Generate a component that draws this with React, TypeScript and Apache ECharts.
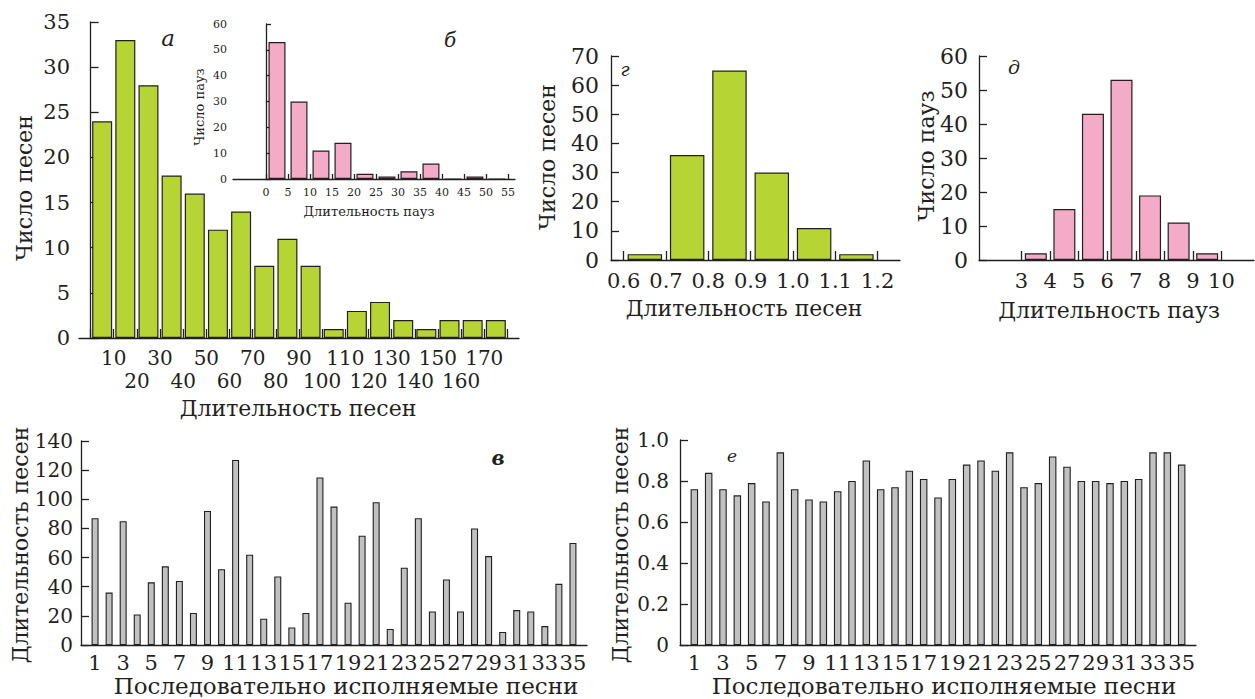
import React, { useEffect, useRef } from "react";
import * as echarts from "echarts";

const SERIF = "DejaVu Serif";
const INK = "#231f20";
const GREEN = "#b7d435";
const PINK = "#f4abc8";
const GRAY = "#c1c1c1";

// а — song durations histogram
const songBinStarts = [0, 10, 20, 30, 40, 50, 60, 70, 80, 90, 100, 110, 120, 130, 140, 150, 160, 170];
const songBinWidth = 10;
const songCounts = [24, 33, 28, 18, 16, 12, 14, 8, 11, 8, 1, 3, 4, 2, 1, 2, 2, 2];
const songTicks = [0, 10, 20, 30, 40, 50, 60, 70, 80, 90, 100, 110, 120, 130, 140, 150, 160, 170, 180];
const songLabelsUpper = [10, 30, 50, 70, 90, 110, 130, 150, 170];
const songLabelsLower = [20, 40, 60, 80, 100, 120, 140, 160];

// б — pause durations histogram (inset)
const pauseBinStarts = [0, 5, 10, 15, 20, 25, 30, 35, 40, 45, 50];
const pauseBinWidth = 5;
const pauseCounts = [53, 30, 11, 14, 2, 1, 3, 6, 0, 1, 0];
const pauseTicks = [0, 5, 10, 15, 20, 25, 30, 35, 40, 45, 50, 55];

// г — relative song durations
const relSongBinStarts = [0.6, 0.7, 0.8, 0.9, 1.0, 1.1];
const relSongBinWidth = 0.1;
const relSongCounts = [2, 36, 65, 30, 11, 2];
const relSongTicks = [0.6, 0.7, 0.8, 0.9, 1.0, 1.1, 1.2];

// д — relative pause durations
const relPauseBinStarts = [3, 4, 5, 6, 7, 8, 9];
const relPauseBinWidth = 1;
const relPauseCounts = [2, 15, 43, 53, 19, 11, 2];
const relPauseTicks = [3, 4, 5, 6, 7, 8, 9, 10];

// в, е — sequentially performed songs
const songNumbers = [1, 2, 3, 4, 5, 6, 7, 8, 9, 10, 11, 12, 13, 14, 15, 16, 17, 18, 19, 20, 21, 22, 23, 24, 25, 26, 27, 28, 29, 30, 31, 32, 33, 34, 35];
const songLengths = [87, 36, 85, 21, 43, 54, 44, 22, 92, 52, 127, 62, 18, 47, 12, 22, 115, 95, 29, 75, 98, 11, 53, 87, 23, 45, 23, 80, 61, 9, 24, 23, 13, 42, 70];
const songLengthsRel = [0.76, 0.84, 0.76, 0.73, 0.79, 0.7, 0.94, 0.76, 0.71, 0.7, 0.75, 0.8, 0.9, 0.76, 0.77, 0.85, 0.81, 0.72, 0.81, 0.88, 0.9, 0.85, 0.94, 0.77, 0.79, 0.92, 0.87, 0.8, 0.8, 0.79, 0.8, 0.81, 0.94, 0.94, 0.88];
const songNumberLabels = [1, 3, 5, 7, 9, 11, 13, 15, 17, 19, 21, 23, 25, 27, 29, 31, 33, 35];

const lineStyle = { color: INK, width: 1.3 };

function xAxis(grid: number, min: number, max: number, o: any) {
  return {
    type: "value",
    gridIndex: grid,
    position: "bottom",
    offset: 0,
    min,
    max,
    axisLine: { show: !o.noLine, onZero: false, lineStyle },
    axisTick: o.ticks
      ? { show: true, inside: true, length: o.tickLen, customValues: o.ticks, lineStyle }
      : { show: false },
    axisLabel: {
      customValues: o.labels,
      formatter: o.formatter,
      fontFamily: SERIF,
      fontSize: o.fontSize,
      lineHeight: o.lineHeight || o.fontSize,
      color: INK,
      margin: o.margin,
      showMinLabel: true,
      showMaxLabel: true,
      hideOverlap: false,
    },
    splitLine: { show: false },
  };
}

function yAxis(grid: number, max: number, interval: number, o: any) {
  return {
    type: "value",
    gridIndex: grid,
    min: 0,
    max,
    interval,
    axisLine: { show: true, lineStyle },
    axisTick: { show: true, inside: true, length: o.tickLen, lineStyle },
    axisLabel: {
      formatter: o.formatter,
      fontFamily: SERIF,
      fontSize: o.fontSize,
      color: INK,
      margin: o.margin,
      showMinLabel: true,
      showMaxLabel: true,
    },
    splitLine: { show: false },
  };
}

function histSeries(idx: number, starts: number[], width: number, counts: number[], color: string, barWidth: number) {
  return {
    type: "bar",
    xAxisIndex: idx,
    yAxisIndex: idx,
    barWidth,
    data: starts.map((s, i) => [s + width / 2, counts[i]]),
    itemStyle: { color, borderColor: INK, borderWidth: 1.2 },
  };
}

function text(t: string, x: number, y: number, size: number, extra: any = {}) {
  return {
    type: "text",
    x,
    y,
    rotation: extra.rotate ? Math.PI / 2 : 0,
    style: {
      text: t,
      fill: INK,
      fontFamily: SERIF,
      fontSize: size,
      fontStyle: extra.italic ? "italic" : "normal",
      fontWeight: extra.bold ? "bold" : "normal",
      lineHeight: extra.lineHeight || size,
      align: "center",
      verticalAlign: "middle",
      textAlign: "center",
      textVerticalAlign: "middle",
    },
  };
}

export default function App() {
  const ref = useRef<HTMLDivElement>(null);
  useEffect(() => {
    if (!ref.current) return;
    const chart = echarts.init(ref.current, undefined, { renderer: "svg" });
    const decFmt = (v: number) => (v === 0 ? "0" : v.toFixed(1));
    chart.setOption({
      animation: false,
      backgroundColor: "#ffffff",
      textStyle: { fontFamily: SERIF },
      grid: [
        { left: 79, top: 22, width: 440, height: 316 },
        { left: 233, top: 24, width: 282, height: 155 },
        { left: 611, top: 56, width: 289, height: 204 },
        { left: 979, top: 56, width: 275, height: 204 },
        { left: 81, top: 441, width: 506, height: 204 },
        { left: 680, top: 440, width: 516, height: 205 },
      ],
      xAxis: [
        xAxis(0, -5, 185, { ticks: songTicks, tickLen: 9, labels: songLabelsUpper, fontSize: 20, margin: 10 }),
        xAxis(1, -7.5, 56.6, { ticks: pauseTicks, tickLen: 5, labels: pauseTicks, fontSize: 11, margin: 8 }),
        xAxis(2, 0.57, 1.253, {
          ticks: relSongTicks,
          tickLen: 9,
          labels: relSongTicks,
          formatter: (v: number) => v.toFixed(1),
          fontSize: 21,
          margin: 10,
        }),
        xAxis(3, 1.51, 11.14, { ticks: relPauseTicks, tickLen: 9, labels: relPauseTicks, fontSize: 21, margin: 10 }),
        xAxis(4, 0, 36, { labels: songNumberLabels, fontSize: 21, margin: 7 }),
        xAxis(5, 0, 36, { labels: songNumberLabels, fontSize: 21, margin: 7 }),
        xAxis(0, -5, 185, { noLine: true, labels: songLabelsLower, fontSize: 20, margin: 33 }),
      ],
      yAxis: [
        yAxis(0, 35, 5, { tickLen: 8, fontSize: 21, margin: 9 }),
        yAxis(1, 60, 10, { tickLen: 5, fontSize: 11, margin: 6 }),
        yAxis(2, 70, 10, { tickLen: 8, fontSize: 22, margin: 12 }),
        yAxis(3, 60, 10, { tickLen: 8, fontSize: 22, margin: 11 }),
        yAxis(4, 140, 20, { tickLen: 8, fontSize: 20, margin: 8 }),
        yAxis(5, 1.0, 0.2, { tickLen: 8, fontSize: 20, margin: 11, formatter: decFmt }),
      ],
      series: [
        histSeries(0, songBinStarts, songBinWidth, songCounts, GREEN, 20),
        histSeries(1, pauseBinStarts, pauseBinWidth, pauseCounts, PINK, 17),
        histSeries(2, relSongBinStarts, relSongBinWidth, relSongCounts, GREEN, 34.5),
        histSeries(3, relPauseBinStarts, relPauseBinWidth, relPauseCounts, PINK, 22),
        {
          type: "bar",
          xAxisIndex: 4,
          yAxisIndex: 4,
          barWidth: 7,
          data: songNumbers.map((n, i) => [n, songLengths[i]]),
          itemStyle: { color: GRAY, borderColor: INK, borderWidth: 1.1 },
        },
        {
          type: "bar",
          xAxisIndex: 5,
          yAxisIndex: 5,
          barWidth: 7.5,
          data: songNumbers.map((n, i) => [n, songLengthsRel[i]]),
          itemStyle: { color: GRAY, borderColor: INK, borderWidth: 1.1 },
        },
      ],
      graphic: [
        text("Число песен", 24, 188, 22, { rotate: true }),
        text("Длительность песен", 298, 408, 22),
        text("а", 168, 38, 23, { italic: true }),
        text("Число пауз", 199, 107, 13, { rotate: true }),
        text("Длительность пауз", 369, 211, 13),
        text("б", 450, 40, 20, { italic: true }),
        text("Число песен", 547, 157, 22, { rotate: true }),
        text("Длительность песен", 744, 308, 22),
        text("г", 625, 69, 18, { italic: true }),
        text("Число пауз", 926, 156, 22, { rotate: true }),
        text("Длительность пауз", 1109, 310, 22),
        text("д", 1014, 67, 19, { italic: true }),
        text("Длительность песен", 20, 545, 22, { rotate: true }),
        text("Последовательно исполняемые песни", 346, 686, 23, { lineHeight: 23 }),
        text("в", 498, 458, 20, { italic: true, bold: true }),
        text("Длительность песен", 620, 545, 22, { rotate: true }),
        text("Последовательно исполняемые песни", 944, 686, 23, { lineHeight: 23 }),
        text("е", 732, 456, 17, { italic: true }),
      ],
    });
    return () => chart.dispose();
  }, []);
  return (
    <div
      ref={ref}
      style={{ position: "fixed", left: 0, top: 0, width: 1255, height: 699, background: "#fff" }}
    />
  );
}
